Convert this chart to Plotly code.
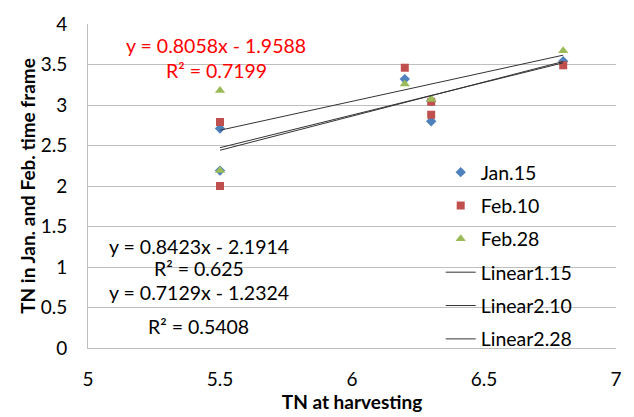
import plotly.graph_objects as go

# TN measured at harvest (x) and in the Jan./Feb. sampling dates (y)
tn_harvest = [5.5, 5.5, 6.2, 6.3, 6.3, 6.8]
jan15 = [2.71, 2.19, 3.32, 3.05, 2.80, 3.54]
feb10 = [2.79, 2.00, 3.46, 3.04, 2.88, 3.49]
feb28 = [3.18, 2.19, 3.26, 3.07, 3.07, 3.67]

series_names = ["Jan.15", "Feb.10", "Feb.28"]
trend_names = ["Linear1.15", "Linear2.10", "Linear2.28"]

# Linear trendline coefficients (y = slope * x + intercept) and R²
slopes = [0.8423, 0.8058, 0.7129]
intercepts = [-2.1914, -1.9588, -1.2324]
r_squared = ["0.625", "0.7199", "0.5408"]

x_ticks = [5, 5.5, 6, 6.5, 7]
y_ticks = [0, 0.5, 1, 1.5, 2, 2.5, 3, 3.5, 4]

FONT = "Lato"
colors = ["#4F81BD", "#C0504D", "#9BBB59"]
symbols = ["diamond", "square", "triangle-up"]
sizes = [8, 8, 9]

fig = go.Figure()

for i, (name, ys) in enumerate(zip(series_names, [jan15, feb10, feb28])):
    fig.add_trace(go.Scatter(
        x=tn_harvest, y=ys, mode="markers", name=name,
        legendgroup=name,
        marker=dict(symbol=symbols[i], color=colors[i], size=sizes[i],
                    line=dict(width=0)),
    ))

x_lo, x_hi = min(tn_harvest), max(tn_harvest)
for i, name in enumerate(trend_names):
    xs = [x_lo, x_hi]
    ys = [slopes[i] * v + intercepts[i] for v in xs]
    fig.add_trace(go.Scatter(
        x=xs, y=ys, mode="lines", name=name, legendgroup=name,
        line=dict(color="#333333", width=1),
    ))


def eq_text(k):
    sign = "-" if intercepts[k] < 0 else "+"
    return f"y = {slopes[k]:.4f}x {sign} {abs(intercepts[k]):.4f}"


# equation labels: (text, x, y, colour)
labels = [
    (eq_text(1), 5.485, 3.74, "#FF0000"),
    (f"R² = {r_squared[1]}", 5.485, 3.43, "#FF0000"),
    (eq_text(0), 5.42, 1.25, "#000000"),
    (f"R² = {r_squared[0]}", 5.42, 0.98, "#000000"),
    (eq_text(2), 5.42, 0.69, "#000000"),
    (f"R² = {r_squared[2]}", 5.42, 0.27, "#000000"),
]
for text, x, y, c in labels:
    fig.add_annotation(x=x, y=y, xref="x", yref="y", text=text,
                       showarrow=False, xanchor="center", yanchor="middle",
                       font=dict(family=FONT, size=19.5, color=c))

fig.update_layout(
    width=634, height=417,
    margin=dict(l=88, r=12, t=17, b=65),
    paper_bgcolor="white", plot_bgcolor="white",
    font=dict(family=FONT, size=19, color="#000000"),
    showlegend=True,
    legend=dict(
        x=0.668, y=0.602, xanchor="left", yanchor="top",
        bgcolor="rgba(0,0,0,0)", borderwidth=0,
        font=dict(family=FONT, size=19.5, color="#000000"),
        tracegroupgap=5, itemwidth=30,
    ),
    xaxis=dict(
        range=[5, 7], tickvals=x_ticks, ticktext=[f"{v:g}" for v in x_ticks],
        showgrid=False, zeroline=False, showline=True, linecolor="#BFBFBF",
        linewidth=1, ticks="", ticklabelstandoff=14,
        tickfont=dict(family=FONT, size=19),
        title=dict(text="<b>TN at harvesting</b>", standoff=2,
                   font=dict(family=FONT, size=19)),
    ),
    yaxis=dict(
        range=[0, 4], tickvals=y_ticks, ticktext=[f"{v:g}" for v in y_ticks],
        showgrid=True, gridcolor="#BFBFBF", gridwidth=1, zeroline=False,
        showline=True, linecolor="#BFBFBF", linewidth=1, ticks="",
        ticklabelstandoff=16,
        tickfont=dict(family=FONT, size=19),
        title=dict(text="<b>TN in Jan. and Feb. time frame</b>", standoff=0,
                   font=dict(family=FONT, size=19)),
    ),
)

fig.write_html("out.html")
